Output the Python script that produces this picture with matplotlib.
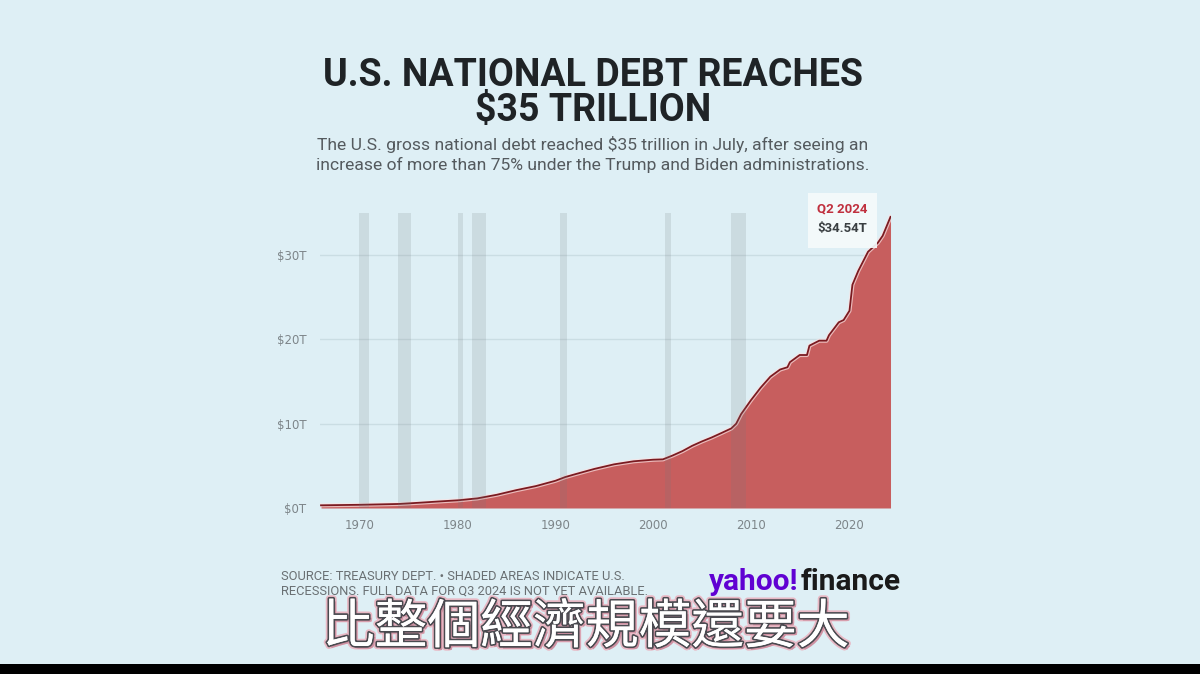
"""U.S. national debt area chart (Yahoo Finance style) with recession shading."""

import matplotlib
matplotlib.use("Agg")
import matplotlib.pyplot as plt
import matplotlib.patheffects as pe
from matplotlib.patches import Rectangle
from matplotlib.transforms import offset_copy

# Gross national debt, trillions of dollars
years = [1966, 1968, 1970, 1972, 1974, 1976, 1978, 1980, 1982, 1984,
         1986, 1988, 1990, 1991, 1992, 1994, 1996, 1998, 2000, 2001,
         2002, 2003, 2004, 2005, 2006, 2007, 2008, 2008.5, 2009, 2010,
         2011, 2012, 2013, 2013.75, 2014, 2015, 2015.75, 2016, 2017,
         2017.75, 2018, 2019, 2019.5, 2020, 2020.1, 2020.4, 2021, 2022,
         2023, 2023.5, 2024.3]
debt = [0.32, 0.35, 0.38, 0.43, 0.48, 0.62, 0.77, 0.91, 1.14, 1.57,
        2.12, 2.60, 3.23, 3.67, 4.00, 4.64, 5.18, 5.54, 5.73, 5.77,
        6.23, 6.75, 7.38, 7.90, 8.37, 8.90, 9.44, 10.0, 11.13, 12.77,
        14.27, 15.58, 16.43, 16.70, 17.30, 18.15, 18.15, 19.26, 19.85,
        19.85, 20.50, 22.03, 22.30, 23.22, 23.40, 26.48, 28.13, 30.40,
        31.46, 32.30, 34.54]

# U.S. recessions (start, end) in decimal years
rec_start = [1969.92, 1973.87, 1980.0, 1981.5, 1990.5, 2001.2, 2007.92]
rec_end = [1970.87, 1975.2, 1980.5, 1982.87, 1991.2, 2001.87, 2009.5]

y_ticks = [0, 10, 20, 30]
y_labels = ["$0T", "$10T", "$20T", "$30T"]
x_ticks = [1970, 1980, 1990, 2000, 2010, 2020]

BG = "#deeff5"

fig = plt.figure(figsize=(12, 6.74), dpi=100, facecolor=BG)
ax = fig.add_axes([0.2667, 0.2463, 0.4758, 0.4377])
ax.set_facecolor(BG)

# Debt area
ax.fill_between(years, debt, 0, color="#c75e5e", linewidth=0, zorder=2)
ax.plot(years, debt, color="#fbe3e3", linewidth=3.0, alpha=0.7, zorder=3)
ax.plot(years, debt, color="#7a1a20", linewidth=1.3, zorder=4)

# Recession shading
for s, e in zip(rec_start, rec_end):
    ax.axvspan(s, e, color="#737a7e", alpha=0.17, linewidth=0, zorder=5)

ax.set_xlim(1965.9, 2024.35)
ax.set_ylim(0, 35)
ax.set_yticks(y_ticks)
ax.set_yticklabels(y_labels)
ax.set_xticks(x_ticks)
ax.grid(axis="y", color="#cadde3", linewidth=1.0, zorder=1)
ax.tick_params(length=0, colors="#7d8589", labelsize=8.5)
ax.tick_params(axis="y", pad=10)
ax.tick_params(axis="x", pad=8)
for sp in ax.spines.values():
    sp.set_visible(False)

# Tooltip for latest value
fig.patches.append(Rectangle((0.673, 0.632), 0.058, 0.082, transform=fig.transFigure,
                             facecolor="#f5fafb", edgecolor="none", alpha=0.92,
                             zorder=10))
fig.text(0.702, 0.690, "Q2 2024", color="#c0303e", fontsize=9.5,
         fontweight="bold", ha="center", va="center", family="Roboto", zorder=11)
fig.text(0.702, 0.661, "$34.54T", color="#3a3f42", fontsize=9.5,
         fontweight="bold", ha="center", va="center", family="Roboto", zorder=11)

# Title and subtitle
fig.text(0.494, 0.8205, "U.S. NATIONAL DEBT REACHES\n$35 TRILLION", ha="center",
         va="baseline", fontsize=27, fontweight="bold", color="#1f2326",
         family="Roboto", linespacing=0.92, multialignment="center")
fig.text(0.494, 0.778,
         "The U.S. gross national debt reached $35 trillion in July, after seeing an",
         ha="center", va="baseline", fontsize=12.6, color="#545a5e", family="Roboto")
fig.text(0.494, 0.748,
         "increase of more than 75% under the Trump and Biden administrations.",
         ha="center", va="baseline", fontsize=12.6, color="#545a5e", family="Roboto")

# Source note
fig.text(0.234, 0.145, "SOURCE: TREASURY DEPT. \u2022 SHADED AREAS INDICATE U.S.",
         ha="left", va="center", fontsize=9.3, color="#6a7073", family="Roboto")
fig.text(0.234, 0.123, "RECESSIONS. FULL DATA FOR Q3 2024 IS NOT YET AVAILABLE.",
         ha="left", va="center", fontsize=9.3, color="#6a7073", family="Roboto")

# Logo
t1 = fig.text(0.591, 0.136, "yahoo!", ha="left", va="center", fontsize=21.5,
              fontweight="bold", color="#6001d2", family="Roboto")
fig.canvas.draw()
w = t1.get_window_extent().width
fig.text(0.591, 0.136, "finance", ha="left", va="center", fontsize=21.5,
         fontweight="bold", color="#1a1a1a", family="Roboto",
         transform=offset_copy(fig.transFigure, fig=fig, x=w * 72 / fig.dpi + 1,
                               units="points"))

# Caption subtitle
cap = fig.text(0.488, 0.069, "比整個經濟規模還要大", ha="center", va="center",
               fontsize=38, color="white",
               family=["Noto Sans CJK TC", "DejaVu Sans"])
cap.set_path_effects([
    pe.withStroke(linewidth=5, foreground="#e8b8c4"),
    pe.SimplePatchShadow(offset=(2, -2), shadow_rgbFace="#c9889a", alpha=0.8),
    pe.withStroke(linewidth=2.5, foreground="#4a4a50"),
    pe.Normal(),
])

# Black band at the bottom
fig.patches.append(Rectangle((0, 0), 1, 0.0148, transform=fig.transFigure,
                             facecolor="black", edgecolor="none", zorder=20))

fig.savefig("out.png", dpi=100, facecolor=BG)
